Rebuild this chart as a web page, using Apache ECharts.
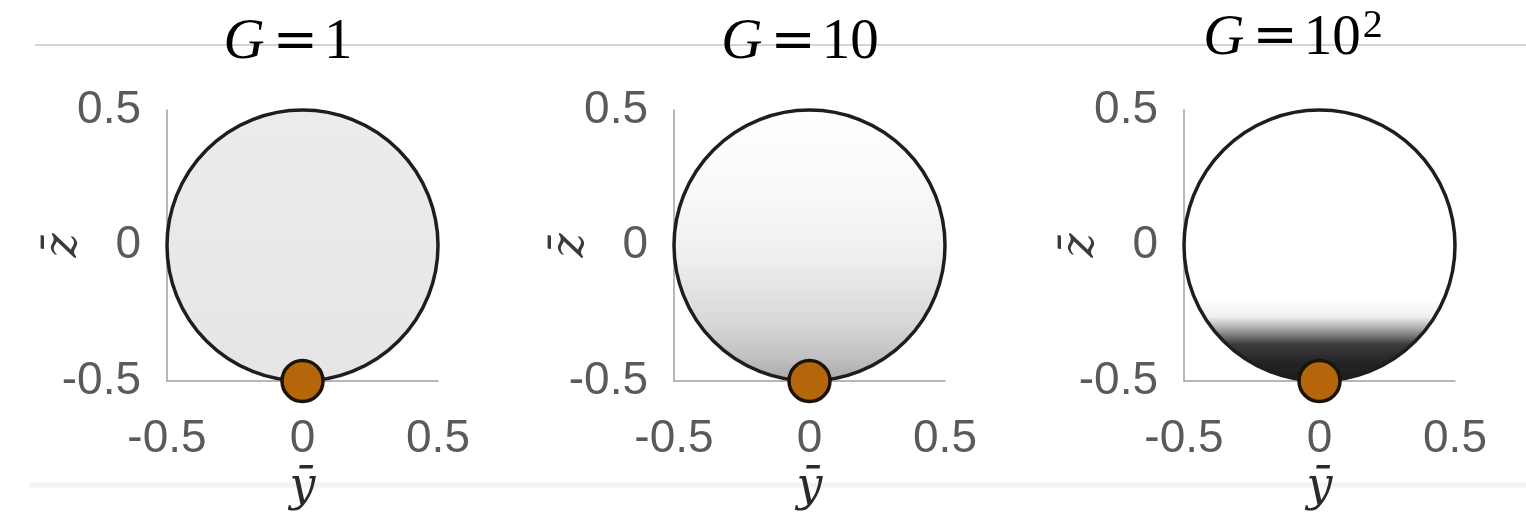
<!DOCTYPE html>
<html>
<head>
<meta charset="utf-8">
<script src="https://cdn.jsdelivr.net/npm/echarts@6/dist/echarts.min.js"></script>
<style>
  html, body { margin: 0; padding: 0; background: #fff; }
  #chart { width: 1526px; height: 512px; }
</style>
</head>
<body>
<div id="chart"></div>
<script>
// Gravity numbers shown above each panel: G = base^exp
const gBase = ['1', '10', '10'];
const gExp = ['', '', '2'];

// Drop: centre (y, z) and radius in scaled units
const drop = [0, 0, 0.5];
// Particle sitting at the bottom of the drop
const particle = [0, -0.5];

// Concentration shading inside the drop, top (0) to bottom (1)
const shadeG1 = [[0, '#ececec'], [0.5, '#e9e9e9'], [1, '#e5e5e5']];
const shadeG10 = [[0, '#ffffff'], [0.3, '#f9f9f9'], [0.55, '#eeeeee'], [0.78, '#d8d8d8'], [0.9, '#c2c2c2'], [1, '#a8a8a8']];
const shadeG100 = [[0, '#ffffff'], [0.7, '#ffffff'], [0.76, '#eeeeee'], [0.81, '#9c9c9c'], [0.86, '#3c3c3c'], [0.93, '#232323'], [1, '#1c1c1c']];
const shades = [shadeG1, shadeG10, shadeG100];

// Axis range and tick spacing
const axisMin = -0.5, axisMax = 0.5, axisStep = 0.5;

const gridLeft = [167, 674, 1184];
const titleX = [288, 800, 1293];

const chart = echarts.init(document.getElementById('chart'));

const tickLabel = { fontSize: 46, color: '#5a5a5a', fontFamily: 'Liberation Sans' };
const axisLineStyle = { show: true, onZero: false, lineStyle: { color: '#a0a0a0', width: 1.5 } };

const grids = [], xAxes = [], yAxes = [], series = [], graphics = [];

graphics.push({
  type: 'line', z: 0,
  shape: { x1: 35, y1: 45, x2: 1526, y2: 45 },
  style: { stroke: '#c4c4c4', lineWidth: 1.5 }
});
graphics.push({
  type: 'line', z: 0,
  shape: { x1: 30, y1: 485, x2: 1526, y2: 485 },
  style: { stroke: '#f3f3f3', lineWidth: 5 }
});

for (let i = 0; i < 3; i++) {
  grids.push({ left: gridLeft[i], top: 110, width: 271, height: 271, containLabel: false, outerBoundsMode: 'none' });
  xAxes.push({
    type: 'value', gridIndex: i, min: axisMin, max: axisMax, interval: axisStep,
    axisLine: axisLineStyle, axisTick: { show: false }, splitLine: { show: false },
    axisLabel: Object.assign({ margin: 35 }, tickLabel),
    name: 'ȳ', nameLocation: 'middle', nameGap: 84, nameMoveOverlap: false,
    nameTextStyle: { fontSize: 46, fontStyle: 'italic', fontFamily: 'DejaVu Serif', color: '#2a2a2a' }
  });
  yAxes.push({
    type: 'value', gridIndex: i, min: axisMin, max: axisMax, interval: axisStep,
    axisLine: axisLineStyle, axisTick: { show: false }, splitLine: { show: false },
    axisLabel: Object.assign({ margin: 26 }, tickLabel),
    name: 'z\u0304', nameLocation: 'middle', nameGap: 80, nameRotate: 90, nameMoveOverlap: false,
    nameTextStyle: { fontSize: 46, fontStyle: 'italic', fontFamily: 'DejaVu Serif', color: '#3a3a3a' }
  });

  const stops = shades[i].map(s => ({ offset: s[0], color: s[1] }));
  series.push({
    type: 'custom', xAxisIndex: i, yAxisIndex: i, z: 2,
    data: [drop],
    renderItem: function (params, api) {
      const c = api.coord([api.value(0), api.value(1)]);
      const s = api.size([api.value(2), api.value(2)]);
      return {
        type: 'circle',
        shape: { cx: c[0], cy: c[1], r: (s[0] + s[1]) / 2 },
        style: {
          fill: new echarts.graphic.LinearGradient(0, 0, 0, 1, stops),
          stroke: '#1e1e1e', lineWidth: 3.5
        }
      };
    }
  });
  series.push({
    type: 'scatter', xAxisIndex: i, yAxisIndex: i, z: 5, clip: false,
    data: [particle], symbol: 'circle', symbolSize: 41,
    itemStyle: { color: '#b5660b', borderColor: '#1b1208', borderWidth: 3.5, opacity: 1 }
  });

  const txt = '{i|G}{e|=}{n|' + gBase[i] + '}' + (gExp[i] ? '{s|' + gExp[i] + '}' : '');
  graphics.push({
    type: 'text', z: 10, x: titleX[i], y: 72,
    style: {
      text: txt, align: 'center', verticalAlign: 'bottom',
      rich: {
        i: { fontSize: 57, fontStyle: 'italic', fontFamily: 'Liberation Serif', color: '#222' },
        e: { fontSize: 54, fontFamily: 'DejaVu Serif', color: '#222', padding: [0, 6, 0, 8] },
        n: { fontSize: 57, fontFamily: 'Liberation Serif', color: '#222' },
        s: { fontSize: 40, fontFamily: 'Liberation Serif', color: '#222', verticalAlign: 'top', padding: [0, 0, 26, 2] }
      }
    }
  });
}

chart.setOption({
  backgroundColor: '#ffffff',
  animation: false,
  grid: grids,
  xAxis: xAxes,
  yAxis: yAxes,
  series: series,
  graphic: graphics
});
</script>
</body>
</html>
